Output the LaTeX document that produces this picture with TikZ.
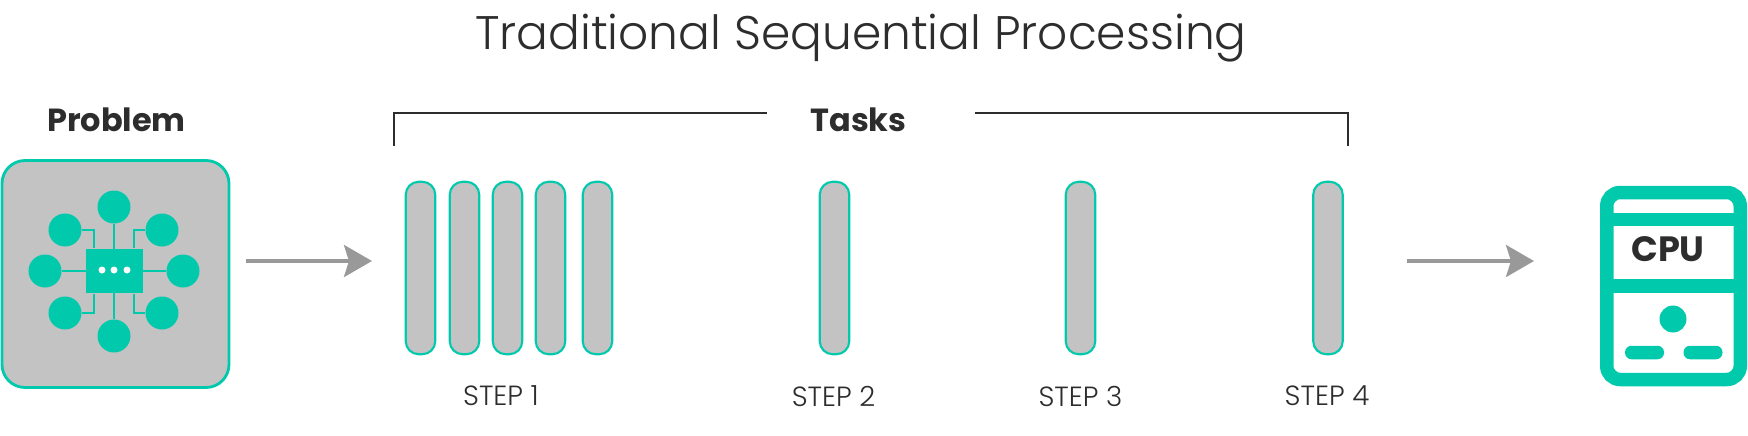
\documentclass[tikz,border=0pt]{standalone}
\usepackage{fontspec}
\setmainfont{Poppins}[UprightFont=* Light,BoldFont=* Bold]
\usetikzlibrary{arrows.meta,positioning}
\definecolor{teal1}{HTML}{00C9AC}
\definecolor{grey1}{HTML}{C3C3C3}
\definecolor{grey2}{HTML}{999999}
\definecolor{ink}{HTML}{2D2D2D}

\begin{document}
\begin{tikzpicture}[text=ink,
  task/.style={draw=teal1,fill=grey1,line width=.6pt,rounded corners=.13cm,minimum width=.295cm,minimum height=1.725cm,inner sep=0pt},
  spot/.style={circle,fill=teal1,minimum size=.33cm,inner sep=0pt},
  pip/.style={circle,fill=white,minimum size=.07cm,inner sep=0pt},
  wire/.style={draw=teal1,line width=.6pt},
  flow/.style={draw=grey2,line width=1pt,-{Stealth[length=.28cm,width=.32cm,inset=.05cm]}},
  steplabel/.style={font=\fontsize{7.9}{10}\selectfont},
  head/.style={font=\fontsize{9.1}{11}\selectfont\bfseries},
  band/.style={fill=teal1,minimum width=1.35cm,minimum height=.135cm,inner sep=0pt},
  pill/.style={fill=teal1,rounded corners=.065cm,minimum width=.39cm,minimum height=.135cm,inner sep=0pt}]
\useasboundingbox (0,0) rectangle (17.48,4.35);
\node[font=\fontsize{13.4}{16}\selectfont] (title) at (8.61,3.97) {Traditional Sequential Processing};

% problem side
\node[head] (problem) at (1.165,3.15) {Problem};
\node[draw=teal1,fill=grey1,line width=.8pt,rounded corners=.23cm,minimum width=2.27cm,minimum height=2.27cm,inner sep=0pt] (pbox) at (1.155,1.61) {};
\node[fill=teal1,minimum width=.57cm,minimum height=.44cm,inner sep=0pt] (chip) at (1.145,1.64) {};
\foreach \n/\x/\y in {t/1.14/2.28,b/1.14/.99,l/.45/1.64,r/1.83/1.64,ul/.65/2.05,ur/1.62/2.05,ll/.65/1.22,lr/1.62/1.22}
  \node[spot] (s\n) at (\x,\y) {};
\draw[wire] (st) -- (sb);
\draw[wire] (sl) -- (sr);
\draw[wire] (sul) -| ([xshift=.085cm]chip.north west);
\draw[wire] (sur) -| ([xshift=-.1cm]chip.north east);
\draw[wire] (sll) -| ([xshift=.085cm]chip.south west);
\draw[wire] (slr) -| ([xshift=-.1cm]chip.south east);
\node[fill=teal1,minimum width=.57cm,minimum height=.44cm,inner sep=0pt] at (chip) {};
\foreach \n/\x in {a/1.02,b/1.14,c/1.27}
  \node[pip] (p\n) at (\x,1.65) {};

\coordinate (a1) at (2.46,1.74);
\coordinate (a2) at (3.72,1.74);
\draw[flow] (a1) -- (a2);

% tasks
\node[head] (tasks) at (8.585,3.15) {Tasks};
\coordinate (bl) at (3.94,2.89);
\coordinate (br) at (13.48,2.89);
\coordinate (tl) at (7.67,3.22);
\coordinate (tr) at (9.745,3.22);
\draw[ink,line width=.85pt] (bl) |- (tl);
\draw[ink,line width=.85pt] (br) |- (tr);
\foreach \n/\x in {a/4.205,b/4.645,c/5.075,d/5.505,e/5.975,f/8.345,g/10.805,h/13.28}
  \node[task] (t\n) at (\x,1.67) {};
\node[steplabel] (s1) at (5.01,.39) {STEP 1};
\node[steplabel] (s2) at (8.335,.39) {STEP 2};
\node[steplabel] (s3) at (10.805,.39) {STEP 3};
\node[steplabel] (s4) at (13.27,.39) {STEP 4};

\coordinate (a3) at (14.07,1.74);
\coordinate (a4) at (15.34,1.74);
\draw[flow] (a3) -- (a4);

% cpu
\node[draw=teal1,line width=.135cm,rounded corners=.135cm,minimum width=1.335cm,minimum height=1.87cm,inner sep=0pt] (cpu) at (16.735,1.49) {};
\node[band] (b1) at (cpu |- 0,2.155) {};
\node[band] (b2) at (cpu |- 0,1.49) {};
\node[spot,minimum size=.27cm] (led) at (16.73,1.16) {};
\node[pill] (p1) at (16.445,.825) {};
\node[pill] (p2) at (17.03,.825) {};
\node[font=\fontsize{10}{12}\selectfont\bfseries] (cputxt) at (16.68,1.86) {CPU};
\end{tikzpicture}
\end{document}
